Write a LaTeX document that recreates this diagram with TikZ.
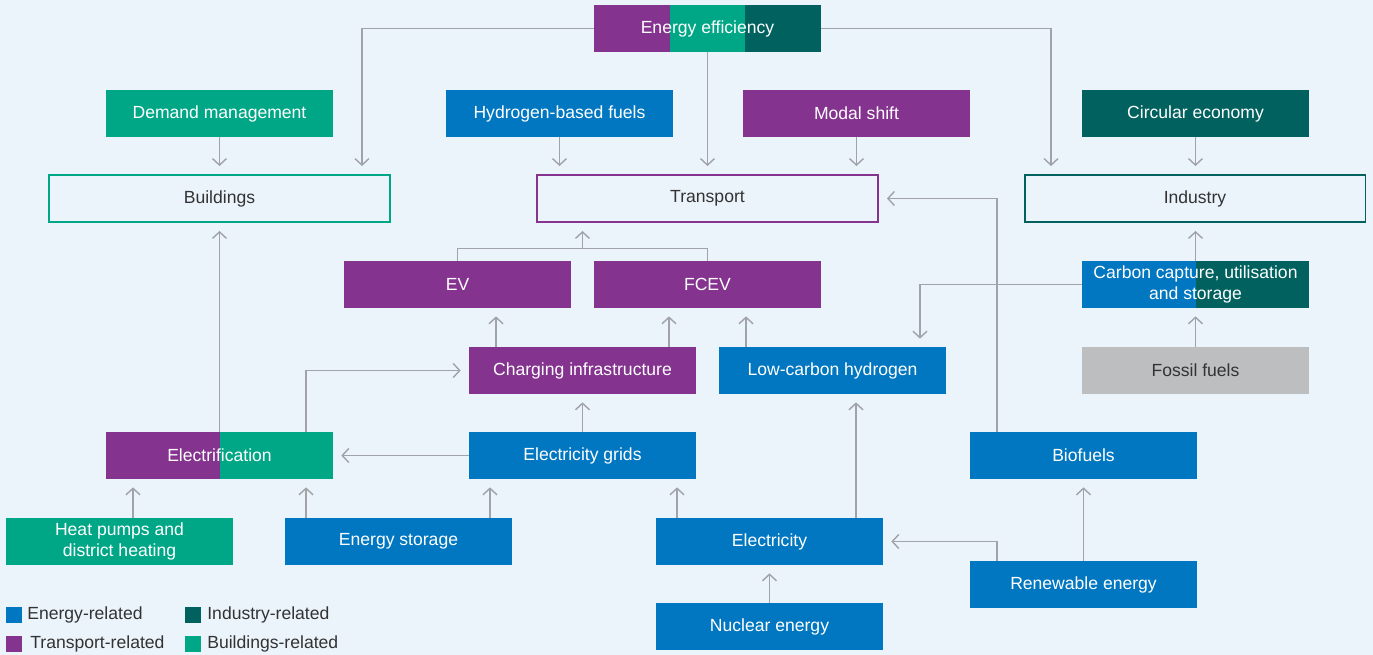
\documentclass[tikz,border=0pt]{standalone}
\usepackage{fontspec}
\setmainfont{Liberation Sans}
\usepackage{tikz}
\usetikzlibrary{positioning}
\usetikzlibrary{calc}
\usetikzlibrary{arrows.meta}

\definecolor{bg}{HTML}{EBF3FB}
\definecolor{energy}{HTML}{0077C0}
\definecolor{transport}{HTML}{84338F}
\definecolor{industry}{HTML}{00615F}
\definecolor{buildings}{HTML}{00A786}
\definecolor{fossil}{HTML}{BCBEC0}
\definecolor{linegray}{HTML}{A0A3A7}
\definecolor{textgray}{HTML}{333333}

\begin{document}
\begin{tikzpicture}[x=0.02cm,y=-0.02cm,
	line/.style={draw=linegray,line width=0.8pt},
	arr/.style={line,-{Straight Barb[length=1.3mm,width=2.8mm]},shorten >=0.16cm},
	box/.style={rectangle,fill=#1,minimum width=4.54cm,minimum height=0.94cm,inner sep=0pt,
		text=white,align=center,font=\fontsize{10}{12}\selectfont},
	sector/.style={rectangle,draw=#1,line width=1.1pt,fill=bg,minimum width=6.82cm,minimum height=0.94cm,
		text=textgray,font=\fontsize{10}{12}\selectfont},
	halves/.style 2 args={box=none,path picture={
		\fill[#1] (path picture bounding box.south west) rectangle (path picture bounding box.north);
		\fill[#2] (path picture bounding box.north) rectangle (path picture bounding box.south east);}},
	key/.style={rectangle,fill=#1,minimum size=0.32cm,inner sep=0pt},
	keytext/.style={right,inner sep=0pt,text=textgray,font=\fontsize{10}{12}\selectfont}]

	% background
	\fill[bg] (0,0) rectangle (1373,655);
	\useasboundingbox (0,0) rectangle (1373,655);

	% Top row
	% -------
	\node[box=none,path picture={
		\fill[transport] (path picture bounding box.south west) rectangle ($(path picture bounding box.north west)!1/3!(path picture bounding box.north east)$);
		\fill[buildings] ($(path picture bounding box.south west)!1/3!(path picture bounding box.south east)$) rectangle ($(path picture bounding box.north west)!2/3!(path picture bounding box.north east)$);
		\fill[industry] ($(path picture bounding box.south west)!2/3!(path picture bounding box.south east)$) rectangle (path picture bounding box.north east);}]
		(EE) at (707.5,28.5) {Energy efficiency};

	\node[box=buildings] (Demand) at (219.5,113.5) {Demand management};
	\node[box=energy] (HFuels) at (559.5,113.5) {Hydrogen-based fuels};
	\node[box=transport] (Modal) at (856.5,113.5) {Modal shift};
	\node[box=industry] (Circular) at (1195.5,113.5) {Circular economy};

	% Sectors
	% -------
	\node[sector=buildings] (Buildings) at (219.5,198.5) {Buildings};
	\node[sector=transport] (Transport) at (707.5,198.5) {Transport};
	\node[sector=industry] (Industry) at (1195,198.5) {Industry};

	% Middle rows
	% -----------
	\node[box=transport] (EV) at (457.5,284.5) {EV};
	\node[box=transport] (FCEV) at (707.5,284.5) {FCEV};
	\node[halves={energy}{industry}] (CCUS) at (1195.5,284.5) {Carbon capture, utilisation\\and storage};

	\node[box=transport] (Charging) at (582.5,370.5) {Charging infrastructure};
	\node[box=energy] (LCH) at (832.5,370.5) {Low-carbon hydrogen};
	\node[box=fossil,text=textgray] (Fossil) at (1195.5,370.5) {Fossil fuels};

	\node[halves={transport}{buildings}] (Electrification) at (219.5,455.5) {Electrification};
	\node[box=energy] (Grids) at (582.5,455.5) {Electricity grids};
	\node[box=energy] (Biofuels) at (1083.5,455.5) {Biofuels};

	% Bottom rows
	% -----------
	\node[box=buildings] (Heat) at (119.5,541.5) {Heat pumps and\\district heating};
	\node[box=energy] (Storage) at (398.5,541.5) {Energy storage};
	\node[box=energy] (Electricity) at (769.5,541.5) {Electricity};
	\node[box=energy] (Renewable) at (1083.5,584.5) {Renewable energy};
	\node[box=energy] (Nuclear) at (769.5,626.5) {Nuclear energy};

	% Connectors
	% ----------
	\draw[arr] (EE.west) -| ([xshift=2.85cm]Buildings.north);
	\draw[arr] (EE.east) -| ([xshift=-2.88cm]Industry.north);
	\draw[arr] (EE.south) -- (Transport.north);

	\draw[arr] (Demand.south) -- (Buildings.north);
	\draw[arr] (HFuels.south) -- (HFuels.south |- Transport.north);
	\draw[arr] (Modal.south) -- (Modal.south |- Transport.north);
	\draw[arr] (Circular.south) -- (Circular.south |- Industry.north);

	\coordinate (fork) at ($(EV.north)!0.5!(FCEV.north)+(0,-12)$);
	\draw[line] (EV.north) |- (fork) -| (FCEV.north);
	\draw[arr] (fork) -- (fork |- Transport.south);

	\draw[arr] ([xshift=-1.73cm]Charging.north) -- ([xshift=-1.73cm]Charging.north |- EV.south);
	\draw[arr] ([xshift=1.73cm]Charging.north) -- ([xshift=1.73cm]Charging.north |- FCEV.south);
	\draw[arr] ([xshift=-1.73cm]LCH.north) -- ([xshift=-1.73cm]LCH.north |- FCEV.south);

	\draw[arr] (CCUS.north) -- (CCUS.north |- Industry.south);
	\draw[arr] (CCUS.west) -| ([xshift=1.75cm]LCH.north);
	\draw[arr] (Fossil.north) -- (CCUS.south);

	\draw[arr] ([xshift=-1.73cm]Biofuels.north) |- (Transport.east);

	\draw[arr] (Electrification.north) -- (Buildings.south);
	\draw[arr] ([xshift=1.73cm]Electrification.north) |- (Charging.west);
	\draw[arr] (Grids.west) -- (Electrification.east);
	\draw[arr] (Grids.north) -- (Charging.south);

	\draw[arr] ([xshift=0.27cm]Heat.north) -- ([xshift=0.27cm]Heat.north |- Electrification.south);
	\draw[arr] ([xshift=-1.85cm]Storage.north) -- ([xshift=-1.85cm]Storage.north |- Electrification.south);
	\draw[arr] ([xshift=1.83cm]Storage.north) -- ([xshift=1.83cm]Storage.north |- Grids.south);
	\draw[arr] ([xshift=-1.85cm]Electricity.north) -- ([xshift=-1.85cm]Electricity.north |- Grids.south);
	\draw[arr] ([xshift=1.73cm]Electricity.north) -- ([xshift=1.73cm]Electricity.north |- LCH.south);

	\draw[arr] ([xshift=-1.73cm]Renewable.north) |- (Electricity.east);
	\draw[arr] (Renewable.north) -- (Biofuels.south);
	\draw[arr] (Nuclear.north) -- (Electricity.south);

	% Legend
	% ------
	\node[key=energy] (kEnergy) at (14,615) {};
	\node[keytext] (tEnergy) at (27,615) {Energy-related};
	\node[key=transport] (kTransport) at (14,644) {};
	\node[keytext] (tTransport) at (30,644) {Transport-related};
	\node[key=industry] (kIndustry) at (193,615) {};
	\node[keytext] (tIndustry) at (207,615) {Industry-related};
	\node[key=buildings] (kBuildings) at (193,644) {};
	\node[keytext] (tBuildings) at (207,644) {Buildings-related};

\end{tikzpicture}
\end{document}
